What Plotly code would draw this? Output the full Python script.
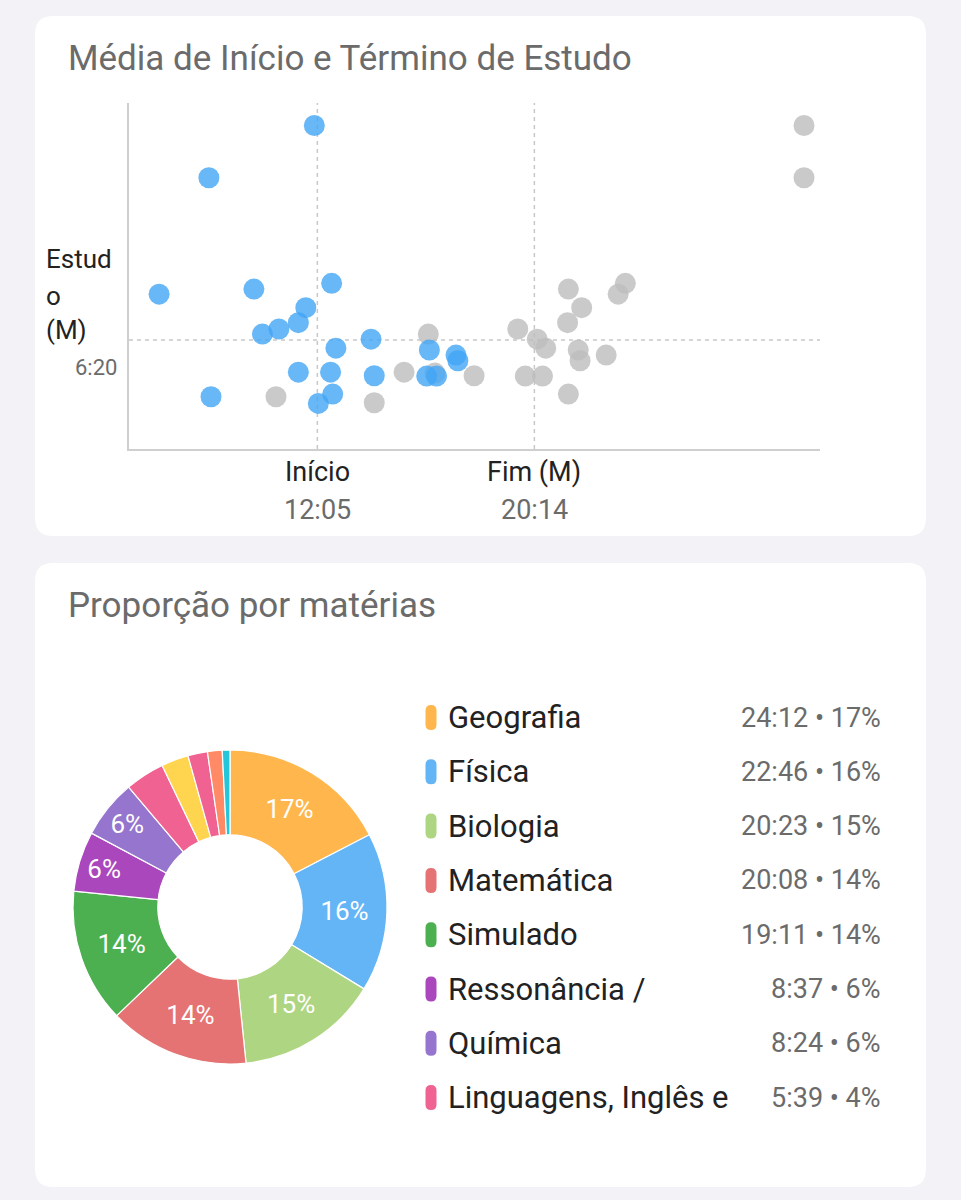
import plotly.graph_objects as go

W, H = 961, 1200

# ---------------- Data ----------------
# Scatter: average start (blue) and end (grey) times of day, in hours, vs. study time (hours)
inicio_x = [11.97, 8.01, 6.14, 9.70, 12.62, 11.65, 11.37, 10.64, 10.02, 14.10, 12.78,
            16.29, 17.29, 17.36, 11.37, 12.58, 14.22, 16.19, 16.56, 8.09, 12.66, 12.12]
inicio_y = [13.48, 11.74, 7.86, 8.03, 8.22, 7.41, 6.91, 6.70, 6.53, 6.36, 6.06,
            6.00, 5.83, 5.64, 5.26, 5.26, 5.14, 5.13, 5.13, 4.44, 4.53, 4.22]
fim_x = [30.36, 30.36, 23.65, 21.51, 23.38, 22.01, 21.48, 19.61, 16.25, 20.34, 20.66,
         21.88, 22.93, 21.95, 15.34, 16.50, 19.89, 20.54, 17.97, 21.51, 10.53, 14.22]
fim_y = [13.48, 11.74, 8.22, 8.03, 7.86, 7.41, 6.91, 6.70, 6.53, 6.36, 6.06,
         6.00, 5.83, 5.64, 5.26, 5.23, 5.13, 5.13, 5.14, 4.53, 4.44, 4.24]

inicio_medio = 12 + 5 / 60     # 12:05
fim_medio = 20 + 14 / 60       # 20:14
estudo_medio = 6 + 20 / 60     # 6:20
inicio_label, fim_label, estudo_label = "12:05", "20:14", "6:20"

# Donut: subjects
materias = ["Geografia", "Física", "Biologia", "Matemática", "Simulado",
            "Ressonância /", "Química", "Linguagens, Inglês e",
            "Outra 1", "Outra 2", "Outra 3", "Outra 4"]
tempos = ["24:12", "22:46", "20:23", "20:08", "19:11", "8:37", "8:24", "5:39",
          "3:54", "2:48", "2:06", "1:06"]
percentuais = ["17%", "16%", "15%", "14%", "14%", "6%", "6%", "4%", "", "", "", ""]
cores = ["#FFB74D", "#64B5F6", "#AED581", "#E57373", "#4CAF50", "#AB47BC",
         "#9575CD", "#F06292", "#FFD54F", "#F06292", "#FF8A65", "#26C6DA"]
legenda_n = 8


def to_hours(t):
    h, m = t.split(":")
    return int(h) + int(m) / 60


horas = [to_hours(t) for t in tempos]

# ---------------- Helpers ----------------
def px(x):
    return x / W


def py(y):
    return 1 - y / H


def rrect(x0, y0, x1, y1, r):
    pts = [
        f"M {px(x0 + r)},{py(y0)}",
        f"L {px(x1 - r)},{py(y0)}",
        f"Q {px(x1)},{py(y0)} {px(x1)},{py(y0 + r)}",
        f"L {px(x1)},{py(y1 - r)}",
        f"Q {px(x1)},{py(y1)} {px(x1 - r)},{py(y1)}",
        f"L {px(x0 + r)},{py(y1)}",
        f"Q {px(x0)},{py(y1)} {px(x0)},{py(y1 - r)}",
        f"L {px(x0)},{py(y0 + r)}",
        f"Q {px(x0)},{py(y0)} {px(x0 + r)},{py(y0)}",
        "Z",
    ]
    return " ".join(pts)


FONT = "Roboto"
DARK = "#222222"
GREY = "#6b6b6b"

fig = go.Figure()

# ---------------- Scatter ----------------
fig.add_trace(go.Scatter(
    x=fim_x, y=fim_y, mode="markers", name="Fim",
    marker=dict(size=21, color="#BDBDBD", opacity=0.8, line=dict(width=0)),
    xaxis="x", yaxis="y", showlegend=False,
))
fig.add_trace(go.Scatter(
    x=inicio_x, y=inicio_y, mode="markers", name="Início",
    marker=dict(size=21, color="#42A5F5", opacity=0.8, line=dict(width=0)),
    xaxis="x", yaxis="y", showlegend=False,
))

# ---------------- Donut ----------------
fig.add_trace(go.Pie(
    labels=materias, values=horas, sort=False, direction="clockwise", rotation=0,
    hole=0.46, text=percentuais[:7] + [""] * (len(materias) - 7),
    texttemplate="%{text}", textposition="inside", insidetextorientation="horizontal",
    textfont=dict(family=FONT, size=26, color="white"),
    marker=dict(colors=cores, line=dict(color="white", width=1.2)),
    domain=dict(x=[px(73), px(387)], y=[py(1064), py(750)]),
    showlegend=False,
))

shapes = []
# cards
shapes.append(dict(type="path", path=rrect(35, 16, 926, 536, 18), xref="paper", yref="paper",
                   fillcolor="white", line=dict(width=0), layer="below"))
shapes.append(dict(type="path", path=rrect(35, 563, 926, 1187, 18), xref="paper", yref="paper",
                   fillcolor="white", line=dict(width=0), layer="below"))
# mean lines
dash_style = dict(color="#c8c8c8", width=1.5, dash="4px,4px")
shapes.append(dict(type="line", xref="x", yref="y domain", x0=inicio_medio, x1=inicio_medio,
                   y0=0, y1=1, line=dash_style, layer="below"))
shapes.append(dict(type="line", xref="x", yref="y domain", x0=fim_medio, x1=fim_medio,
                   y0=0, y1=1, line=dash_style, layer="below"))
shapes.append(dict(type="line", xref="x domain", yref="y", x0=0, x1=1,
                   y0=estudo_medio, y1=estudo_medio, line=dash_style, layer="below"))

annotations = []


def ann(text, x, y, size, color, xanchor="left", xref="paper"):
    annotations.append(dict(text=text, x=x, y=y, xref=xref, yref="paper",
                            xanchor=xanchor, yanchor="middle", showarrow=False,
                            font=dict(family=FONT, size=size, color=color)))


# titles
ann("Média de Início e Término de Estudo", px(66), py(58), 35, GREY)
ann("Proporção por matérias", px(66), py(605), 35, GREY)

# scatter axis labels
ann("Início", inicio_medio, py(472), 27, DARK, "center", "x")
ann(inicio_label, inicio_medio, py(510), 27, GREY, "center", "x")
ann("Fim (M)", fim_medio, py(472), 27, DARK, "center", "x")
ann(fim_label, fim_medio, py(510), 27, GREY, "center", "x")
ann("Estud", px(44), py(259), 26, DARK)
ann("o", px(44), py(296), 26, DARK)
ann("(M)", px(44), py(330), 26, DARK)
ann(estudo_label, px(119), py(367), 22, GREY, "right")

# custom legend
row0, step = 717.5, 54.3
for i in range(legenda_n):
    yc = row0 + i * step
    shapes.append(dict(type="path", path=rrect(425.5, yc - 12.5, 436.5, yc + 12.5, 5.5),
                       xref="paper", yref="paper", fillcolor=cores[i], line=dict(width=0)))
    ann(materias[i], px(446), py(yc), 31, DARK)
    ann(f"{tempos[i]} • {percentuais[i]}", px(883), py(yc), 27, GREY, "right")

fig.update_layout(
    width=W, height=H,
    margin=dict(l=0, r=0, t=0, b=0),
    paper_bgcolor="#f2f2f7", plot_bgcolor="rgba(0,0,0,0)",
    font=dict(family=FONT),
    xaxis=dict(domain=[px(129), px(820)], range=[5.01, 30.96], showgrid=False, zeroline=False,
               showticklabels=False, ticks="", showline=True, linecolor="#cfcfcf", linewidth=2,
               fixedrange=True),
    yaxis=dict(domain=[py(449), py(103)], range=[2.7, 14.23], showgrid=False, zeroline=False,
               showticklabels=False, ticks="", showline=True, linecolor="#cfcfcf", linewidth=2,
               fixedrange=True),
    shapes=shapes,
    annotations=annotations,
    showlegend=False,
)

fig.write_html("out.html")
